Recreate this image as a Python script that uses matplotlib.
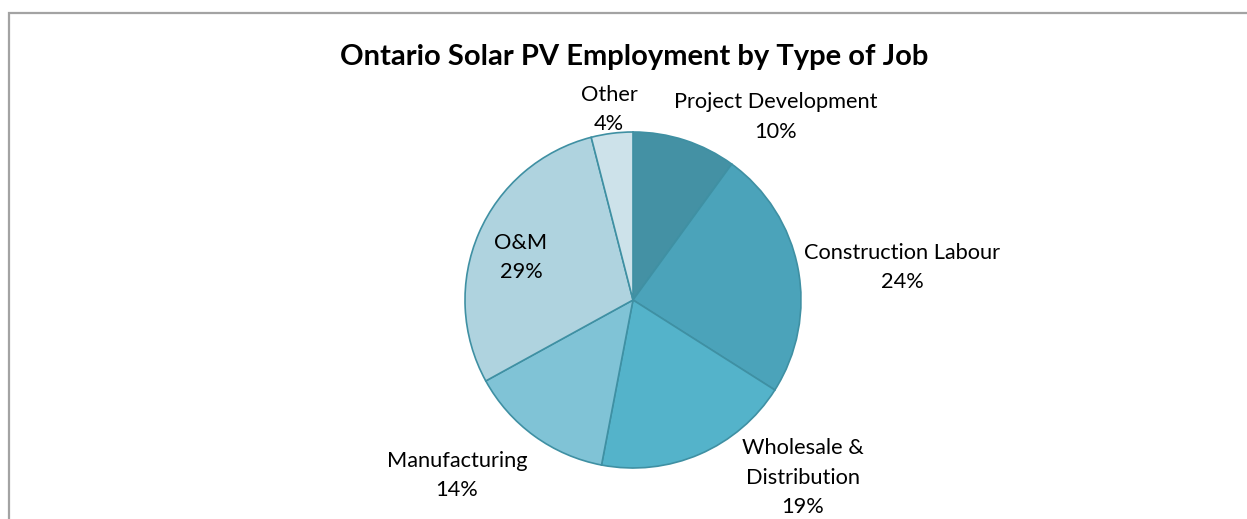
import matplotlib.pyplot as plt
from matplotlib.patches import Rectangle

# data, clockwise from 12 o'clock
job_types = ["Project Development", "Construction Labour", "Wholesale &\nDistribution",
             "Manufacturing", "O&M", "Other"]
shares = [10, 24, 19, 14, 29, 4]
colors = ["#4491a4", "#4ba3ba", "#54b3ca", "#80c3d6", "#afd3df", "#cde2ea"]

# label centres in pixels (first line)
label_xy = [(776, 102), (902, 253), (803, 448), (457, 461), (521, 243), (609, 95)]

W, H = 1247, 519
plt.rcParams["font.family"] = ["Lato", "DejaVu Sans"]

fig = plt.figure(figsize=(W / 100, H / 100), dpi=100)

# chart frame, cut off at right and bottom like the source
fig.patches.append(Rectangle((9 / W, -0.1), 1.2, 1.1 - 13 / H, transform=fig.transFigure,
                             fill=False, edgecolor="#a3a3a3", linewidth=1.6))

cx, cy, r = 633, 300, 168
ax = fig.add_axes([(cx - r) / W, (H - cy - r) / H, 2 * r / W, 2 * r / H])
ax.pie(shares, colors=colors, startangle=90, counterclock=False, radius=1,
       wedgeprops=dict(edgecolor="#3f90a3", linewidth=1.2))
ax.set_xlim(-1.0, 1.0)
ax.set_ylim(-1.0, 1.0)
ax.axis("off")

for name, val, (x, y) in zip(job_types, shares, label_xy):
    lines = name.split("\n") + [f"{val}%"]
    for i, line in enumerate(lines):
        fig.text(x / W, 1 - (y + 29.5 * i) / H, line, ha="center", va="center",
                 fontsize=15.7, color="black")

fig.text(634 / W, 1 - 57 / H, "Ontario Solar PV Employment by Type of Job",
         ha="center", va="center", fontsize=21, fontweight="bold")

plt.savefig("out.png", dpi=100)
